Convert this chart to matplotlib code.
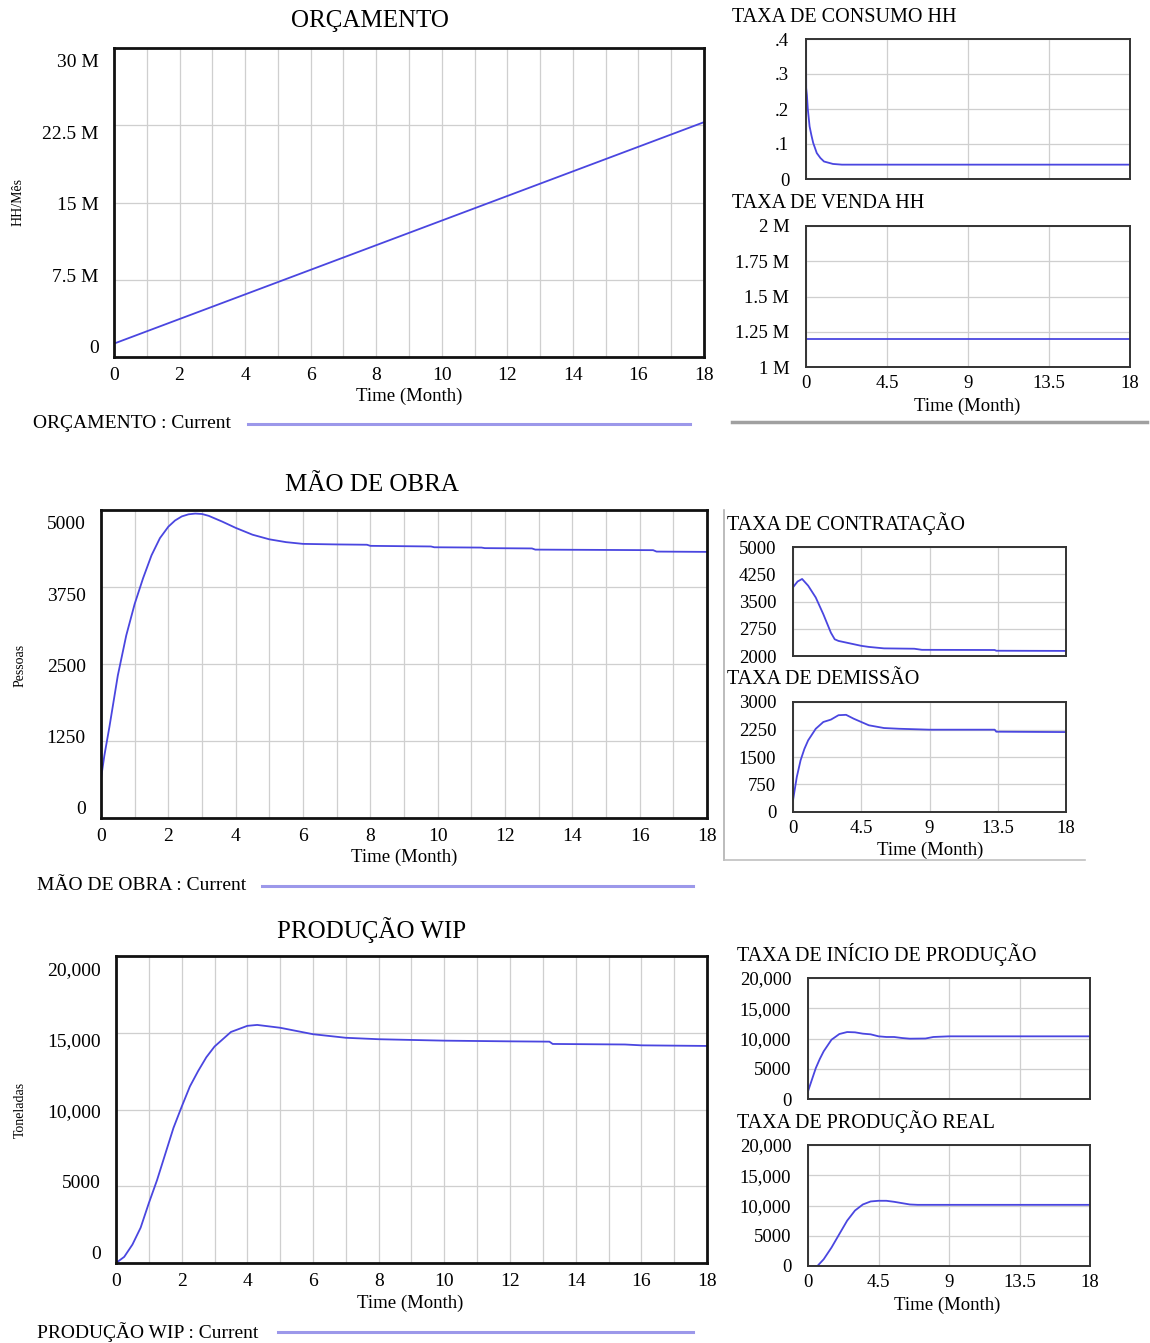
import matplotlib
matplotlib.use("Agg")
import matplotlib.pyplot as plt
from matplotlib.ticker import FixedLocator, FixedFormatter, MultipleLocator, NullFormatter
from matplotlib.lines import Line2D

plt.rcParams['font.family'] = ['Liberation Serif', 'DejaVu Serif']

# ---------------- data ----------------
t_orc = [0, 18]
orcamento = [1.3e6, 22.8e6]

t_consumo = [0, 0.01, 0.05, 0.1, 0.2, 0.3, 0.4, 0.6, 0.8, 1.0, 1.5, 2.0, 18]
consumo = [0.4, 0.26, 0.24, 0.2, 0.15, 0.125, 0.103, 0.074, 0.06, 0.05, 0.043, 0.041, 0.041]

t_venda = [0, 18]
venda = [1.2e6, 1.2e6]

t_mao = [0, 0.1, 0.25, 0.5, 0.75, 1, 1.25, 1.5, 1.75, 2, 2.2, 2.4, 2.6, 2.8, 3.0, 3.2,
         3.6, 4, 4.5, 5, 5.5, 6, 7, 7.9, 8, 9.8, 9.9, 11.3, 11.4, 12.8, 12.9, 14.5,
         16.4, 16.5, 18]
mao_obra = [640, 1014, 1479, 2315, 2964, 3475, 3893, 4264, 4543, 4729, 4830, 4896, 4930,
            4942, 4935, 4905, 4812, 4710, 4599, 4524, 4478, 4450, 4441, 4436, 4418, 4408,
            4395, 4390, 4381, 4376, 4357, 4353, 4348, 4325, 4320]

t_contr = [0, 0.3, 0.6, 1, 1.5, 2, 2.5, 2.75, 3, 4, 4.5, 5, 6, 8, 8.5, 13.3, 13.4, 18]
contratacao = [3890, 4050, 4120, 3935, 3610, 3150, 2640, 2460, 2415, 2325, 2280, 2250,
               2210, 2200, 2170, 2165, 2145, 2140]

t_dem = [0, 0.25, 0.5, 0.75, 1, 1.5, 2, 2.5, 3, 3.5, 4, 4.5, 5, 6, 7, 9, 13.3, 13.4, 18]
demissao = [318, 955, 1410, 1720, 1955, 2270, 2455, 2520, 2640, 2650, 2545, 2455, 2365,
            2290, 2270, 2245, 2245, 2190, 2180]

t_wip = [0, 0.25, 0.5, 0.75, 1, 1.25, 1.5, 1.75, 2, 2.25, 2.5, 2.75, 3, 3.5, 4, 4.3, 5,
         6, 7, 8, 10, 12, 13.2, 13.3, 15.5, 16, 18]
wip = [0, 400, 1200, 2300, 3900, 5400, 7100, 8800, 10180, 11500, 12500, 13400, 14100,
       15050, 15450, 15510, 15325, 14905, 14672, 14578, 14485, 14440, 14420, 14270, 14235,
       14180, 14140]

t_inicio = [0, 0.25, 0.5, 0.75, 1, 1.5, 2, 2.5, 3, 3.5, 4, 4.5, 5, 5.5, 6, 6.5, 7.5, 8,
            9, 18]
inicio = [1270, 3200, 5120, 6600, 7880, 9800, 10740, 11070, 11020, 10800, 10690, 10360,
          10250, 10250, 10080, 9970, 10000, 10250, 10360, 10360]

t_real = [0, 0.6, 1, 1.5, 2, 2.5, 3, 3.5, 4, 4.5, 5, 5.5, 6, 6.5, 7, 18]
prod_real = [0, 0, 1110, 3050, 5280, 7500, 9170, 10170, 10670, 10780, 10780, 10610,
             10390, 10170, 10110, 10110]

# tick labels
orc_ticks = [0, 7.5e6, 15e6, 22.5e6, 30e6]
orc_labels = ['0', '7.5 M', '15 M', '22.5 M', '30 M']
cons_ticks = [0, 0.1, 0.2, 0.3, 0.4]
cons_labels = ['0', '.1', '.2', '.3', '.4']
venda_ticks = [1e6, 1.25e6, 1.5e6, 1.75e6, 2e6]
venda_labels = ['1 M', '1.25 M', '1.5 M', '1.75 M', '2 M']
mao_ticks = [0, 1250, 2500, 3750, 5000]
mao_labels = ['0', '1250', '2500', '3750', '5000']
contr_ticks = [2000, 2750, 3500, 4250, 5000]
contr_labels = ['2000', '2750', '3500', '4250', '5000']
dem_ticks = [0, 750, 1500, 2250, 3000]
dem_labels = ['0', '750', '1500', '2250', '3000']
wip_ticks = [0, 5000, 10000, 15000, 20000]
wip_labels = ['0', '5000', '10,000', '15,000', '20,000']
big_xticks = [0, 2, 4, 6, 8, 10, 12, 14, 16, 18]
big_xlabels = ['0', '2', '4', '6', '8', '10', '12', '14', '16', '18']
small_xticks = [0, 4.5, 9, 13.5, 18]
small_xlabels = ['0', '4.5', '9', '13.5', '18']

# ---------------- layout ----------------
W, H = 1150, 1343
fig = plt.figure(figsize=(W / 100, H / 100), dpi=100)
fig.patch.set_facecolor('white')

LINE = '#4a46e0'
LEG = '#9c98ea'
GRID = '#cfcfcf'


def box(l, t, r, b):
    return [l / W, 1 - b / H, (r - l) / W, (b - t) / H]


def ft(x, y, s, **kw):
    fig.text(x / W, 1 - y / H, s, **kw)


def setup(ax, ylim, yt, yl, xt, xl, big, show_x=True):
    ax.set_xlim(0, 18)
    ax.set_ylim(*ylim)
    ax.yaxis.set_major_locator(FixedLocator(yt))
    ax.xaxis.set_major_locator(FixedLocator(xt))
    if big:
        # Vensim: grid at the scale values, labels drawn slightly inset
        ax.yaxis.set_major_formatter(NullFormatter())
        ax.xaxis.set_minor_locator(MultipleLocator(1))
        ax.grid(True, which='minor', axis='x', color=GRID, lw=0.9)
    else:
        ax.yaxis.set_major_formatter(FixedFormatter(yl))
    if show_x:
        ax.xaxis.set_major_formatter(FixedFormatter(xl))
    else:
        ax.xaxis.set_major_formatter(NullFormatter())
    ax.grid(True, which='major', axis='both', color=GRID, lw=0.9)
    ax.tick_params(which='both', length=0, labelsize=14 if big else 13.5)
    ax.tick_params(axis='y', pad=12)
    ax.tick_params(axis='x', pad=7 if big else 5.5)
    for s in ax.spines.values():
        s.set_linewidth(2.0 if big else 1.4)
        s.set_color('#111111' if big else '#333333')
    ax.set_axisbelow(True)
    if big:
        lab = fig.add_axes(ax.get_position().bounds, frameon=False)
        top = ylim[1]
        lab.set_ylim(-0.0357 * top, 1.0454 * top)
        lab.set_xticks([])
        lab.yaxis.set_major_locator(FixedLocator(yt))
        lab.yaxis.set_major_formatter(FixedFormatter(yl))
        lab.tick_params(length=0, labelsize=14, pad=11)
        lab.patch.set_visible(False)


# ---- ORÇAMENTO ----
ax1 = fig.add_axes(box(114, 48, 704, 357))
ax1.plot(t_orc, orcamento, color=LINE, lw=1.3)
setup(ax1, (0, 30e6), orc_ticks, orc_labels, big_xticks, big_xlabels, True)
ft(370, 21, 'ORÇAMENTO', ha='center', va='center', fontsize=18)
ft(18, 202, 'HH/Mês', ha='center', va='center', rotation=90, fontsize=10)
ft(409, 396, 'Time (Month)', ha='center', va='center', fontsize=13.5)
ft(33, 424, 'ORÇAMENTO : Current', ha='left', va='center', fontsize=14)
fig.add_artist(Line2D([248 / W, 690 / W], [1 - 424 / H] * 2, color=LEG, lw=2.2))

# ---- TAXA DE CONSUMO HH ----
ax2 = fig.add_axes(box(806, 39, 1130, 179))
ax2.plot(t_consumo, consumo, color=LINE, lw=1.3)
setup(ax2, (0, 0.4), cons_ticks, cons_labels, small_xticks, small_xlabels, False,
      show_x=False)
ft(732, 17, 'TAXA DE CONSUMO HH', ha='left', va='center', fontsize=14.5)

# ---- TAXA DE VENDA HH ----
ax3 = fig.add_axes(box(806, 226, 1130, 367))
ax3.plot(t_venda, venda, color=LINE, lw=1.3)
setup(ax3, (1e6, 2e6), venda_ticks, venda_labels, small_xticks, small_xlabels, False)
ft(732, 203, 'TAXA DE VENDA HH', ha='left', va='center', fontsize=14.5)
ft(967, 406, 'Time (Month)', ha='center', va='center', fontsize=13.5)
fig.add_artist(Line2D([732 / W, 1147 / W], [1 - 422 / H] * 2, color='#a0a0a0', lw=2.5))

# ---- MÃO DE OBRA ----
ax4 = fig.add_axes(box(101, 510, 707, 818))
ax4.plot(t_mao, mao_obra, color=LINE, lw=1.3)
setup(ax4, (0, 5000), mao_ticks, mao_labels, big_xticks, big_xlabels, True)
ft(372, 485, 'MÃO DE OBRA', ha='center', va='center', fontsize=18)
ft(20, 665, 'Pessoas', ha='center', va='center', rotation=90, fontsize=10)
ft(404, 857, 'Time (Month)', ha='center', va='center', fontsize=13.5)
ft(37, 886, 'MÃO DE OBRA : Current', ha='left', va='center', fontsize=14)
fig.add_artist(Line2D([262 / W, 693 / W], [1 - 886 / H] * 2, color=LEG, lw=2.2))

# frame of the middle-right group
fig.add_artist(Line2D([724 / W, 724 / W], [1 - 510 / H, 1 - 860 / H], color='#b0b0b0', lw=1.2))
fig.add_artist(Line2D([724 / W, 1085 / W], [1 - 860 / H] * 2, color='#c0c0c0', lw=1.2))

# ---- TAXA DE CONTRATAÇÃO ----
ax5 = fig.add_axes(box(793, 547, 1066, 656))
ax5.plot(t_contr, contratacao, color=LINE, lw=1.3)
setup(ax5, (2000, 5000), contr_ticks, contr_labels, small_xticks, small_xlabels, False,
      show_x=False)
ft(727, 524, 'TAXA DE CONTRATAÇÃO', ha='left', va='center', fontsize=14.5)

# ---- TAXA DE DEMISSÃO ----
ax6 = fig.add_axes(box(793, 702, 1066, 812))
ax6.plot(t_dem, demissao, color=LINE, lw=1.3)
setup(ax6, (0, 3000), dem_ticks, dem_labels, small_xticks, small_xlabels, False)
ft(727, 680, 'TAXA DE DEMISSÃO', ha='left', va='center', fontsize=14.5)
ft(930, 850, 'Time (Month)', ha='center', va='center', fontsize=13.5)

# ---- PRODUÇÃO WIP ----
ax7 = fig.add_axes(box(116, 956, 707, 1263))
ax7.plot(t_wip, wip, color=LINE, lw=1.3)
setup(ax7, (0, 20000), wip_ticks, wip_labels, big_xticks, big_xlabels, True)
ft(372, 930, 'PRODUÇÃO WIP', ha='center', va='center', fontsize=18)
ft(20, 1110, 'Toneladas', ha='center', va='center', rotation=90, fontsize=10)
ft(410, 1303, 'Time (Month)', ha='center', va='center', fontsize=13.5)
ft(37, 1332, 'PRODUÇÃO WIP : Current', ha='left', va='center', fontsize=14)
fig.add_artist(Line2D([278 / W, 693 / W], [1 - 1332 / H] * 2, color=LEG, lw=2.2))

# ---- TAXA DE INÍCIO DE PRODUÇÃO ----
ax8 = fig.add_axes(box(808, 978, 1090, 1099))
ax8.plot(t_inicio, inicio, color=LINE, lw=1.3)
setup(ax8, (0, 20000), wip_ticks, wip_labels, small_xticks, small_xlabels, False,
      show_x=False)
ft(737, 955, 'TAXA DE INÍCIO DE PRODUÇÃO', ha='left', va='center', fontsize=14.5)

# ---- TAXA DE PRODUÇÃO REAL ----
ax9 = fig.add_axes(box(808, 1145, 1090, 1266))
ax9.plot(t_real, prod_real, color=LINE, lw=1.3)
setup(ax9, (0, 20000), wip_ticks, wip_labels, small_xticks, small_xlabels, False)
ft(737, 1122, 'TAXA DE PRODUÇÃO REAL', ha='left', va='center', fontsize=14.5)
ft(947, 1305, 'Time (Month)', ha='center', va='center', fontsize=13.5)

fig.savefig('out.png', dpi=100, facecolor='white')
